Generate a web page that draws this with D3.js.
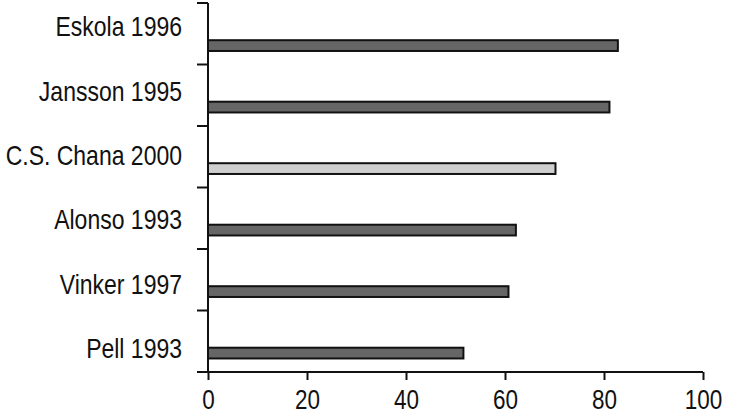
<!DOCTYPE html>
<html><head><meta charset="utf-8">
<script src="https://cdn.jsdelivr.net/npm/d3@7"></script>
<style>body{margin:0;background:#fff}svg{display:block}text{font-family:"Liberation Sans",Arial,sans-serif;fill:#111}</style>
</head><body>
<svg id="c" width="730" height="417"></svg>
<script>
const categories = ["Eskola 1996","Jansson 1995","C.S. Chana 2000","Alonso 1993","Vinker 1997","Pell 1993"];
const values = [82.8, 81.1, 70.2, 62.2, 60.7, 51.6];
const highlighted = [false, false, true, false, false, false];
const xTicks = [0,20,40,60,80,100];

const svg = d3.select("#c");
const L = 208, R = 703, T = 3, B = 372;
const x = d3.scaleLinear().domain([0,100]).range([L,R]);
const y = d3.scaleBand().domain(categories).range([T,B]).padding(0);
const bw = y.bandwidth();
const labelY = d3.scalePoint().domain(categories).range([26.5, 348]);

// bars
svg.selectAll("rect.bar").data(categories).enter().append("rect")
  .attr("x", x(0))
  .attr("y", d => y(d) + bw*0.605)
  .attr("width", (d,i) => x(values[i]) - x(0))
  .attr("height", bw*0.175)
  .attr("fill", (d,i) => highlighted[i] ? "#cfcfcf" : "#666")
  .attr("stroke", "#111").attr("stroke-width", 2);

// y axis
const ya = svg.append("g");
ya.append("line").attr("x1",L).attr("x2",L).attr("y1",T).attr("y2",B).attr("stroke","#111").attr("stroke-width",2);
categories.forEach(c => {
  ya.append("line").attr("x1",L-11).attr("x2",L).attr("y1",y(c)).attr("y2",y(c)).attr("stroke","#111").attr("stroke-width",2);
});
const fs = 23, sy = 1.2;
ya.selectAll("text").data(categories).enter().append("text")
  .attr("x", 0).attr("y", 0)
  .attr("text-anchor","end")
  .attr("font-size", fs)
  .attr("transform", d => `translate(182,${labelY(d) + 0.716*fs*sy/2}) scale(1,${sy})`)
  .text(d => d);

// x axis
const xa = svg.append("g").attr("transform",`translate(0,${B})`)
  .call(d3.axisBottom(x).tickValues(xTicks).tickSize(8).tickPadding(10).tickFormat(d3.format("d")));
xa.select(".domain").remove();
xa.append("line").attr("x1",L-11).attr("x2",R).attr("y1",0).attr("y2",0).attr("stroke","#111").attr("stroke-width",2);
xa.selectAll(".tick line").attr("stroke","#111").attr("stroke-width",2);
xa.selectAll(".tick text").attr("font-size",22.5).attr("fill","#111")
  .attr("font-family","Liberation Sans, Arial, sans-serif")
  .attr("y",0).attr("dy",null)
  .attr("transform",`translate(0,36.5) scale(1,${sy})`);
</script>
</body></html>
